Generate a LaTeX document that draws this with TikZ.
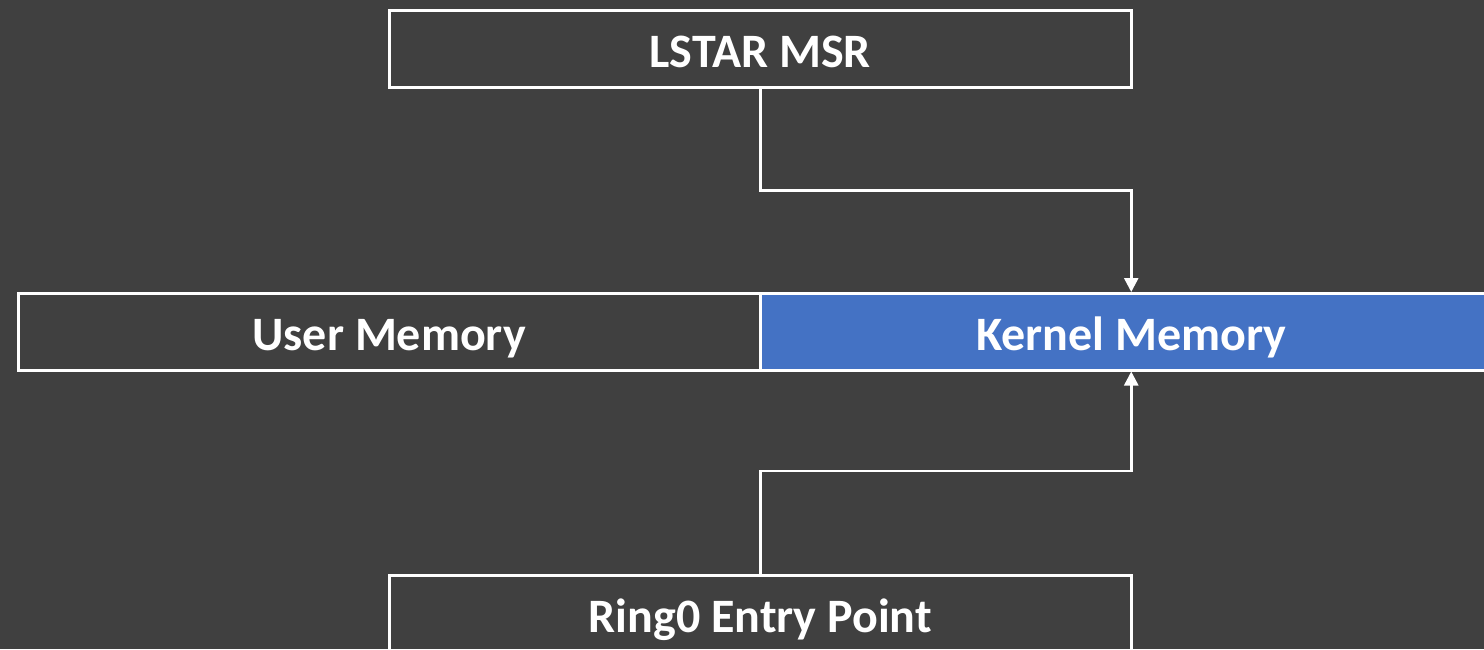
\documentclass[tikz,border=0pt]{standalone}
\usepackage{fontspec}
\setmainfont{Carlito}
\usetikzlibrary{arrows.meta}
\definecolor{bgdark}{HTML}{404040}
\definecolor{kernelblue}{HTML}{4472C4}
\tikzset{
  membox/.style={draw=white, line width=2.5pt, minimum width=742pt, minimum height=77pt,
    inner sep=0pt, anchor=north west, text=white, text height=38pt, text depth=0pt,
    font=\fontsize{48}{57}\selectfont\bfseries},
  link/.style={draw=white, line width=2.5pt, -{Triangle[width=14pt,length=14pt]}}
}
\begin{document}
\begin{tikzpicture}[x=1pt, y=-1pt]
  \fill[bgdark] (0,0) rectangle (1484,649);
  \useasboundingbox (0,0) rectangle (1484,649);
  \clip (0,0) rectangle (1484,649);

  \node[membox] (lstar) at (388,9) {LSTAR MSR};
  \node[membox] (user) at (17,292) {User Memory};
  \node[membox, fill=kernelblue] (kernel) at (759,292) {Kernel Memory};
  \node[membox] (ring0) at (388,574) {Ring0 Entry Point};

  \draw[link] (lstar.south) -- ++(0,102) -| (kernel.north);
  \draw[link] (ring0.north) -- ++(0,-103) -| (kernel.south);
\end{tikzpicture}
\end{document}
